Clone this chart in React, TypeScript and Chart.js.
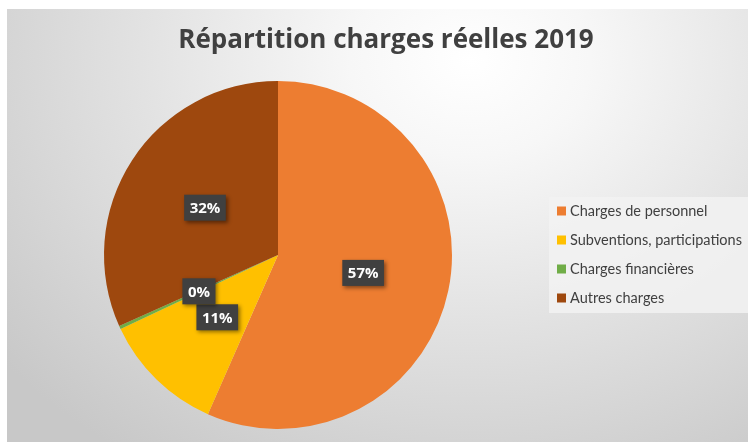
import { useEffect, useRef } from "react";
import { Chart, registerables } from "chart.js";

Chart.register(...registerables);

const categories = [
  "Charges de personnel",
  "Subventions, participations",
  "Charges financières",
  "Autres charges",
];
const shares = [56.6, 11.4, 0.3, 31.7];
const colors = ["#ED7D31", "#FFC000", "#70AD47", "#9E480E"];
const titleText = "Répartition charges réelles 2019";

const W = 751;
const H = 442;

const backgroundPlugin = {
  id: "bgPlugin",
  beforeDraw(chart: any) {
    const ctx = chart.ctx;
    ctx.save();
    ctx.fillStyle = "#ffffff";
    ctx.fillRect(0, 0, W, H);
    ctx.beginPath();
    ctx.rect(7, 9, 741, 433);
    ctx.clip();
    ctx.translate(470, 60);
    ctx.scale(1.25, 1);
    const g = ctx.createRadialGradient(0, 0, 0, 0, 0, 480);
    g.addColorStop(0, "#ffffff");
    g.addColorStop(0.2, "#f7f7f7");
    g.addColorStop(0.55, "#e2e2e2");
    g.addColorStop(1, "#c8c8c8");
    ctx.fillStyle = g;
    ctx.fillRect(-500, -100, 900, 600);
    ctx.restore();
  },
};

const decorPlugin = {
  id: "decorPlugin",
  afterDatasetsDraw(chart: any) {
    const ctx = chart.ctx;
    const meta = chart.getDatasetMeta(0);
    const data = chart.data.datasets[0].data as number[];
    const total = data.reduce((a, b) => a + b, 0);
    ctx.save();
    ctx.font = "bold 15px 'Open Sans'";
    ctx.textAlign = "center";
    ctx.textBaseline = "middle";
    meta.data.forEach((arc: any, i: number) => {
      const p = arc.getCenterPoint();
      const txt = Math.round((data[i] / total) * 100) + "%";
      const tw = ctx.measureText(txt).width;
      const bw = tw + 11;
      const bh = 26;
      ctx.save();
      ctx.shadowColor = "rgba(0,0,0,0.45)";
      ctx.shadowBlur = 4;
      ctx.shadowOffsetX = 2;
      ctx.shadowOffsetY = 2;
      ctx.fillStyle = "#404040";
      ctx.fillRect(p.x - bw / 2, p.y - bh / 2, bw, bh);
      ctx.restore();
      ctx.fillStyle = "#ffffff";
      ctx.fillText(txt, p.x, p.y + 1);
    });
    ctx.restore();
  },
  afterDraw(chart: any) {
    const ctx = chart.ctx;
    ctx.save();
    // title
    ctx.fillStyle = "#404040";
    ctx.font = "bold 26px 'Open Sans'";
    ctx.textAlign = "center";
    ctx.textBaseline = "middle";
    ctx.fillText(titleText, 386, 41);
    // legend
    ctx.fillStyle = "rgba(242,242,242,0.85)";
    ctx.fillRect(549, 197, 199, 116);
    const rows = [211, 240, 269, 298];
    ctx.font = "14.5px Lato";
    ctx.textAlign = "left";
    (chart.data.labels as string[]).forEach((lab, i) => {
      const y = rows[i];
      ctx.fillStyle = colors[i];
      ctx.fillRect(557, y - 4.5, 9, 9);
      ctx.fillStyle = "#404040";
      ctx.fillText(lab, 570, y + 0.5);
    });
    ctx.restore();
  },
};

export default function App() {
  const ref = useRef<HTMLCanvasElement | null>(null);
  useEffect(() => {
    if (!ref.current) return;
    const chart = new Chart(ref.current, {
      type: "pie",
      data: {
        labels: categories,
        datasets: [
          {
            data: shares,
            backgroundColor: colors,
            borderWidth: 0,
          },
        ],
      },
      options: {
        responsive: false,
        animation: false,
        devicePixelRatio: 1,
        layout: { padding: { left: 104, right: W - 452, top: 81, bottom: H - 429 } },
        plugins: {
          legend: { display: false },
          title: { display: false },
          tooltip: { enabled: false },
        },
      },
      plugins: [backgroundPlugin, decorPlugin],
    });
    return () => chart.destroy();
  }, []);
  return (
    <div style={{ position: "absolute", left: 0, top: 0, width: W, height: H }}>
      <canvas ref={ref} width={W} height={H} style={{ display: "block", width: W, height: H }} />
    </div>
  );
}
